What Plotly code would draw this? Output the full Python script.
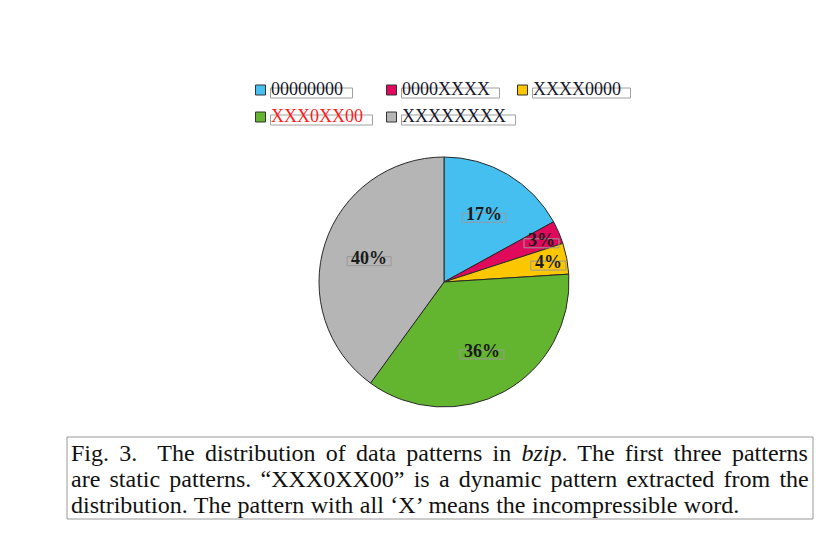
import math
import plotly.graph_objects as go

# ---- data ----
labels = ["00000000", "0000XXXX", "XXXX0000", "XXX0XX00", "XXXXXXXX"]
values = [17, 3, 4, 36, 40]
colors = ["#45BFF0", "#E0095C", "#FDC700", "#63B52F", "#B4B5B4"]
legend_text_colors = ["#15152a", "#15152a", "#15152a", "#FF1A1A", "#15152a"]
caption_lines = [
    "Fig. 3.  The distribution of data patterns in <i>bzip</i>. The first three patterns",
    "are static patterns. “XXX0XX00” is a dynamic pattern extracted from the",
    "distribution. The pattern with all ‘X’ means the incompressible word.",
]
caption_word_spacing = [4.25, 3.2, 0.5]

W, H = 830, 541


def px(x):
    return x / W


def py(y):
    return 1 - y / H


cx, cy, R = 444, 282, 125
SERIF = "Liberation Serif, Times New Roman, serif"

fig = go.Figure(
    go.Pie(
        labels=labels,
        values=values,
        sort=False,
        direction="clockwise",
        rotation=0,
        marker=dict(colors=colors, line=dict(color="#2a2a2a", width=1)),
        textinfo="none",
        hoverinfo="label+percent",
        showlegend=False,
        domain=dict(x=[px(cx - R), px(cx + R)], y=[py(cy + R), py(cy - R)]),
    )
)

annotations = []
shapes = []

# ---- slice labels ----
total = sum(values)
cum = 0
for v in values:
    mid = (cum + v / 2) / total
    cum += v
    th = 2 * math.pi * mid
    rf = 0.85 if v / total < 0.05 else 0.63
    x = cx + R * rf * math.sin(th)
    y = cy - R * rf * math.cos(th)
    txt = f"{v}%"
    annotations.append(dict(
        x=px(x), y=py(y), xref="paper", yref="paper", text=f"<b>{txt}</b>",
        showarrow=False, xanchor="center", yanchor="middle",
        font=dict(family=SERIF, size=18, color="#1a1a1a"),
    ))
    wbox = sum(0.5 if c.isdigit() else 1.0 for c in txt) * 18 + 8
    shapes.append(dict(type="rect", xref="paper", yref="paper",
                       x0=px(x - wbox / 2), x1=px(x + wbox / 2),
                       y0=py(y + 8), y1=py(y - 1),
                       line=dict(color="#9a9a9a", width=1)))

# ---- legend ----
col_x = [260.5, 391.5, 522.5]
row_y = [90, 117]
for i, (lab, col, tc) in enumerate(zip(labels, colors, legend_text_colors)):
    sx = col_x[i % 3]
    sy = row_y[i // 3]
    shapes.append(dict(type="rect", xref="paper", yref="paper",
                       x0=px(sx - 5), x1=px(sx + 5), y0=py(sy + 5), y1=py(sy - 5),
                       fillcolor=col, line=dict(color="#333333", width=1)))
    tx = sx + 8
    annotations.append(dict(
        x=px(tx), y=py(sy - 0.5), xref="paper", yref="paper", text=lab,
        showarrow=False, xanchor="left", yanchor="middle",
        font=dict(family=SERIF, size=18, color=tc),
    ))
    wlab = sum(9 if c.isdigit() else 13 for c in lab) + 10
    shapes.append(dict(type="rect", xref="paper", yref="paper",
                       x0=px(tx + 2), x1=px(tx + 2 + wlab), y0=py(sy + 8), y1=py(sy - 2),
                       line=dict(color="#a0a0a0", width=1)))

# ---- caption ----
shapes.append(dict(type="rect", xref="paper", yref="paper",
                   x0=px(67), x1=px(813), y0=py(519), y1=py(437),
                   line=dict(color="#999999", width=1)))
for k, (line, ws) in enumerate(zip(caption_lines, caption_word_spacing)):
    txt = f'<span style="word-spacing:{ws}px">{line}</span>' if ws else line
    annotations.append(dict(
        x=px(69), y=py(453 + 26 * k), xref="paper", yref="paper", text=txt,
        showarrow=False, xanchor="left", yanchor="middle",
        font=dict(family=SERIF, size=24, color="#111111"),
    ))

fig.update_layout(
    width=W, height=H,
    margin=dict(l=0, r=0, t=0, b=0),
    paper_bgcolor="white", plot_bgcolor="white",
    annotations=annotations, shapes=shapes,
)

fig.write_html("out.html")
